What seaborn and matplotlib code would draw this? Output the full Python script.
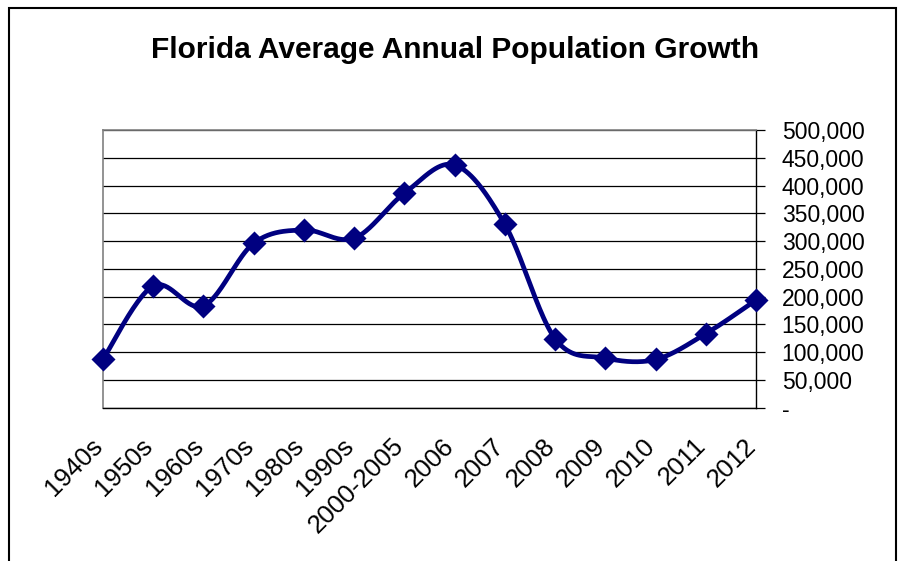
import numpy as np
import pandas as pd
import matplotlib
matplotlib.use("Agg")
import matplotlib.pyplot as plt
import matplotlib.transforms as mtransforms
import seaborn as sns
from matplotlib.patches import Rectangle
from matplotlib.ticker import FuncFormatter

# ---- data ----
categories = ["1940s", "1950s", "1960s", "1970s", "1980s", "1990s", "2000-2005",
              "2006", "2007", "2008", "2009", "2010", "2011", "2012"]
growth = [87000, 219000, 183000, 296000, 320000, 305000, 386000,
          437000, 330000, 124000, 89000, 86500, 133000, 193500]
y_ticks = [0, 50000, 100000, 150000, 200000, 250000, 300000, 350000, 400000, 450000, 500000]
title = "Florida Average Annual Population Growth"

NAVY = "#000080"

sns.set_style("white")
plt.rcParams["font.family"] = ["Liberation Sans", "DejaVu Sans"]
plt.rcParams["text.color"] = "black"
plt.rcParams["xtick.color"] = "black"
plt.rcParams["ytick.color"] = "black"
plt.rcParams["axes.labelcolor"] = "black"

W, H = 901, 561
fig = plt.figure(figsize=(W / 100, H / 100), dpi=100)
ax = fig.add_axes([103 / W, 1 - 407.5 / H, (756 - 103) / W, (407.5 - 130) / H])

pos = np.arange(len(categories), dtype=float)
vals = np.asarray(growth, dtype=float)

# smoothed line (Catmull-Rom style Bezier, like Excel "smoothed line")
def smooth(px, py, n=40):
    P = np.column_stack([px, py])
    Pe = np.vstack([P[0], P, P[-1]])
    out = []
    t = np.linspace(0, 1, n)[:, None]
    for i in range(len(P) - 1):
        p0, p1, p2, p3 = Pe[i], Pe[i + 1], Pe[i + 2], Pe[i + 3]
        b1 = p1 + (p2 - p0) / 6
        b2 = p2 - (p3 - p1) / 6
        seg = ((1 - t) ** 3) * p1 + 3 * ((1 - t) ** 2) * t * b1 + 3 * (1 - t) * t ** 2 * b2 + t ** 3 * p2
        out.append(seg if i == 0 else seg[1:])
    out = np.vstack(out)
    return out[:, 0], out[:, 1]

sx, sy = smooth(pos, vals)
curve = pd.DataFrame({"x": sx, "y": sy})
sns.lineplot(data=curve, x="x", y="y", sort=False, color=NAVY, linewidth=3.4, ax=ax,
             estimator=None, zorder=3)
pts = pd.DataFrame({"x": pos, "y": vals})
sns.scatterplot(data=pts, x="x", y="y", marker="D", s=150, color=NAVY, linewidth=0,
                ax=ax, zorder=4, clip_on=False)

ax.set_xlim(0, len(categories) - 1)
ax.set_ylim(0, 500000)
ax.set_xlabel("")
ax.set_ylabel("")

ax.set_yticks(y_ticks)
ax.yaxis.tick_right()
ax.yaxis.set_major_formatter(FuncFormatter(lambda v, p: "-" if v == 0 else f"{int(v):,}"))
ax.tick_params(axis="y", which="both", direction="out", length=6.5, width=0.9,
               color="black", labelcolor="black", pad=12, labelsize=16.5,
               left=False, right=True)
ax.set_xticks(pos)
ax.set_xticklabels(categories, rotation=45, ha="right", va="center",
                   rotation_mode="anchor", fontsize=18.5)
ax.tick_params(axis="x", direction="out", length=6, width=0.9, color="black",
               labelcolor="black", pad=19)
shift = mtransforms.ScaledTranslation(-4 / 100, 0, fig.dpi_scale_trans)
for lab in ax.get_xticklabels():
    lab.set_transform(lab.get_transform() + shift)

ax.yaxis.grid(True, color="black", linewidth=0.9)
ax.xaxis.grid(False)
for s in ["top", "left"]:
    ax.spines[s].set_color("#808080")
    ax.spines[s].set_linewidth(1.2)
for s in ["right", "bottom"]:
    ax.spines[s].set_color("black")
    ax.spines[s].set_linewidth(1.0)
ax.set_axisbelow(True)

fig.text(455 / W, 1 - 50 / H, title, ha="center", va="center",
         fontsize=21.5, fontweight="bold", color="black")

fig.add_artist(Rectangle((8.5 / W, -0.05), (896 - 8.5) / W, 1.05 - 7.5 / H,
                         transform=fig.transFigure, fill=False, edgecolor="black",
                         linewidth=1.5))

fig.savefig("out.png", dpi=100)
